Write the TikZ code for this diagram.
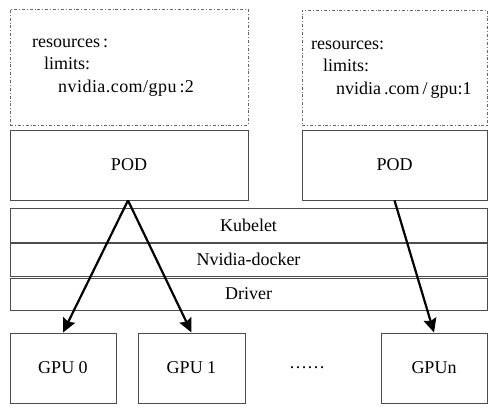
\documentclass[tikz,border=0pt]{standalone}
\usepackage{fontspec}
\setmainfont{Liberation Serif}
\usetikzlibrary{arrows.meta}
\begin{document}
\begin{tikzpicture}[x=1pt,y=-1pt,
  box/.style={draw=black!70,line width=0.9pt,rectangle,inner sep=0pt},
  specbox/.style={draw=black!60,line width=0.8pt,dash dot,rectangle,inner sep=0pt},
  txt/.style={inner sep=0pt,anchor=base west},
  arr/.style={line width=2.2pt,-{Stealth[length=14pt,width=13pt,inset=2pt]}},
  every node/.style={font=\fontsize{18}{21}\selectfont}]
\useasboundingbox (0,0) rectangle (492,414);
\node[specbox,minimum width=238pt,minimum height=116pt] (specL) at (129,67) {};
\node[specbox,minimum width=185pt,minimum height=115pt] (specR) at (394.5,67.5) {};
\node[txt] (rL1) at (32,48) {resources\,:};
\node[txt] (rL2) at (44,70) {limits:};
\node[txt] (rL3) at (58,93) {\addfontfeature{LetterSpace=2.5}nvidia.com/gpu\,:2};
\node[txt] (rR1) at (311,50) {resources:};
\node[txt] (rR2) at (323,72) {limits:};
\node[txt] (rR3) at (336,95) {nvidia\,.com\,/\,gpu:1};
\node[box,minimum width=238pt,minimum height=70pt] (podL) at (129,165) {POD};
\node[box,minimum width=185pt,minimum height=70pt] (podR) at (394.5,165) {POD};
\node[box,minimum width=477pt,minimum height=34pt] (kub) at (248.5,225) {Kubelet};
\node[box,minimum width=477pt,minimum height=33pt] (nvd) at (248.5,259.5) {Nvidia-docker};
\node[box,minimum width=477pt,minimum height=32pt] (drv) at (248.5,294) {Driver};
\node[box,minimum width=106pt,minimum height=70pt] (gpu0) at (63,368) {GPU 0};
\node[box,minimum width=107pt,minimum height=70pt] (gpu1) at (191.5,368) {GPU 1};
\node[box,minimum width=106pt,minimum height=70pt] (gpun) at (434,368) {GPUn};
\node[inner sep=0pt] (dots) at (307,368) {\ldots\ldots};
\draw[arr] ([xshift=-1pt]podL.south) -- (gpu0.north);
\draw[arr] ([xshift=-1pt]podL.south) -- (gpu1.north);
\draw[arr] (podR.south) -- (gpun.north);
\end{tikzpicture}
\end{document}
